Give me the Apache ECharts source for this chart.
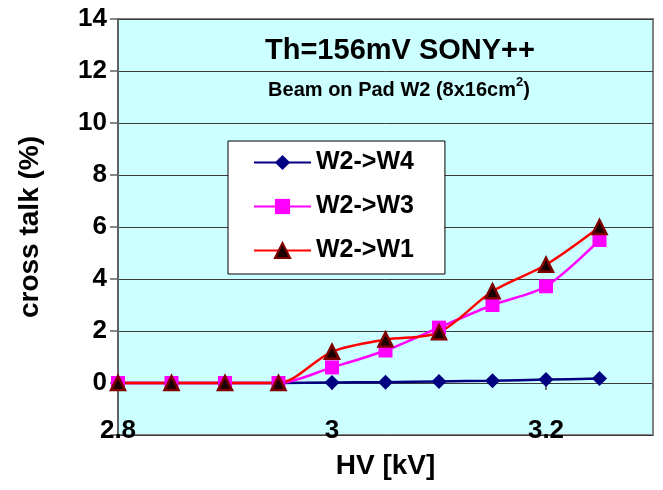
<!DOCTYPE html>
<html>
<head>
<meta charset="utf-8">
<script src="https://cdn.jsdelivr.net/npm/echarts@6/dist/echarts.min.js"></script>
<style>
  html, body { margin: 0; padding: 0; background: #fff; }
  #chart { width: 663px; height: 490px; }
</style>
</head>
<body>
<div id="chart"></div>
<script>
// High voltage settings (kV)
const hv = [2.8, 2.85, 2.9, 2.95, 3.0, 3.05, 3.1, 3.15, 3.2, 3.25];
// Cross talk (%) measured on neighbouring pads
const w2w4 = [0, 0, 0, 0, 0.02, 0.03, 0.06, 0.09, 0.13, 0.17];
const w2w3 = [0, 0, 0, 0, 0.6, 1.25, 2.13, 3.0, 3.72, 5.5];
const w2w1 = [0, 0, 0, 0, 1.2, 1.67, 1.95, 3.53, 4.55, 6.0];
const seriesNames = ['W2->W4', 'W2->W3', 'W2->W1'];

const FONT = "'Liberation Sans', Arial, sans-serif";
const pairs = ys => hv.map((x, i) => [x, ys[i]]);

const chart = echarts.init(document.getElementById('chart'), null, { renderer: 'canvas' });

chart.setOption({
  animation: false,
  backgroundColor: '#ffffff',
  grid: {
    left: 118, right: 10, top: 19, bottom: 55,
    outerBoundsMode: 'none',
    containLabel: false,
    show: true,
    backgroundColor: '#CCFFFF',
    borderColor: '#808080',
    borderWidth: 2
  },
  graphic: [
    {
      type: 'text', x: 400, y: 51,
      style: {
        text: 'Th=156mV SONY++',
        font: 'bold 29px ' + FONT,
        fill: '#000',
        textAlign: 'center', textVerticalAlign: 'middle'
      }
    },
    {
      type: 'text', x: 399, y: 88,
      style: {
        text: '{b|Beam on Pad W2 (8x16cm}{s|2}{b|)}',
        textAlign: 'center', textVerticalAlign: 'middle',
        rich: {
          b: { fontFamily: FONT, fontWeight: 'bold', fontSize: 20, fill: '#000', lineHeight: 24, verticalAlign: 'bottom' },
          s: { fontFamily: FONT, fontWeight: 'bold', fontSize: 13, fill: '#000', lineHeight: 24, verticalAlign: 'top' }
        }
      }
    }
  ],
  legend: {
    orient: 'vertical',
    left: 228, top: 141,
    padding: [9, 31, 11, 25],
    itemGap: 19,
    itemWidth: 57,
    itemHeight: 19,
    backgroundColor: '#ffffff',
    borderColor: '#000000',
    borderWidth: 1,
    data: seriesNames,
    textStyle: { fontFamily: FONT, fontWeight: 'bold', fontSize: 25, color: '#000' }
  },
  xAxis: [
    {
      type: 'value', min: 2.8, max: 3.3, interval: 0.2,
      position: 'bottom',
      axisLine: { onZero: true, lineStyle: { color: '#3a3a3a', width: 1 } },
      axisTick: { show: true, length: 7, lineStyle: { color: '#707070', width: 2 } },
      axisLabel: { show: false },
      splitLine: { show: false }
    },
    {
      type: 'value', min: 2.8, max: 3.3, interval: 0.2,
      position: 'bottom',
      axisLine: { show: false, onZero: false },
      axisTick: { show: false },
      splitLine: { show: false },
      axisLabel: {
        show: true, showMaxLabel: false,
        margin: -4, verticalAlign: 'middle',
        fontFamily: FONT, fontWeight: 'bold', fontSize: 26, color: '#000',
        formatter: v => String(Number(v.toFixed(2)))
      },
      name: 'HV [kV]', nameLocation: 'middle', nameGap: 17,
      nameTextStyle: { fontFamily: FONT, fontWeight: 'bold', fontSize: 28, color: '#000', verticalAlign: 'top' }
    }
  ],
  yAxis: {
    type: 'value', min: -2, max: 14, interval: 2,
    axisLine: { show: true, onZero: false, lineStyle: { color: '#606060', width: 2 } },
    axisTick: { show: true, length: 8, lineStyle: { color: '#606060', width: 1.5 } },
    axisLabel: {
      margin: 11,
      fontFamily: FONT, fontWeight: 'bold', fontSize: 26, color: '#000',
      formatter: v => (v < 0 ? '' : String(v))
    },
    splitLine: { show: true, lineStyle: { color: '#3a3a3a', width: 1 } },
    name: 'cross talk (%)', nameLocation: 'middle', nameGap: 74,
    nameTextStyle: { fontFamily: FONT, fontWeight: 'bold', fontSize: 28, color: '#000' }
  },
  series: [
    {
      name: seriesNames[0], type: 'line', data: pairs(w2w4), smooth: 0.3,
      symbol: 'diamond', symbolSize: 15,
      lineStyle: { color: '#000080', width: 2.5 },
      itemStyle: { color: '#000080' }
    },
    {
      name: seriesNames[1], type: 'line', data: pairs(w2w3), smooth: 0.3,
      symbol: 'rect', symbolSize: 14,
      lineStyle: { color: '#FF00FF', width: 2.5 },
      itemStyle: { color: '#FF00FF' }
    },
    {
      name: seriesNames[2], type: 'line', data: pairs(w2w1), smooth: 0.3,
      symbol: 'triangle', symbolSize: 14,
      lineStyle: { color: '#FF0000', width: 2.5 },
      itemStyle: { color: '#1a0000', borderColor: '#800000', borderWidth: 2.5 }
    }
  ]
});
</script>
</body>
</html>
